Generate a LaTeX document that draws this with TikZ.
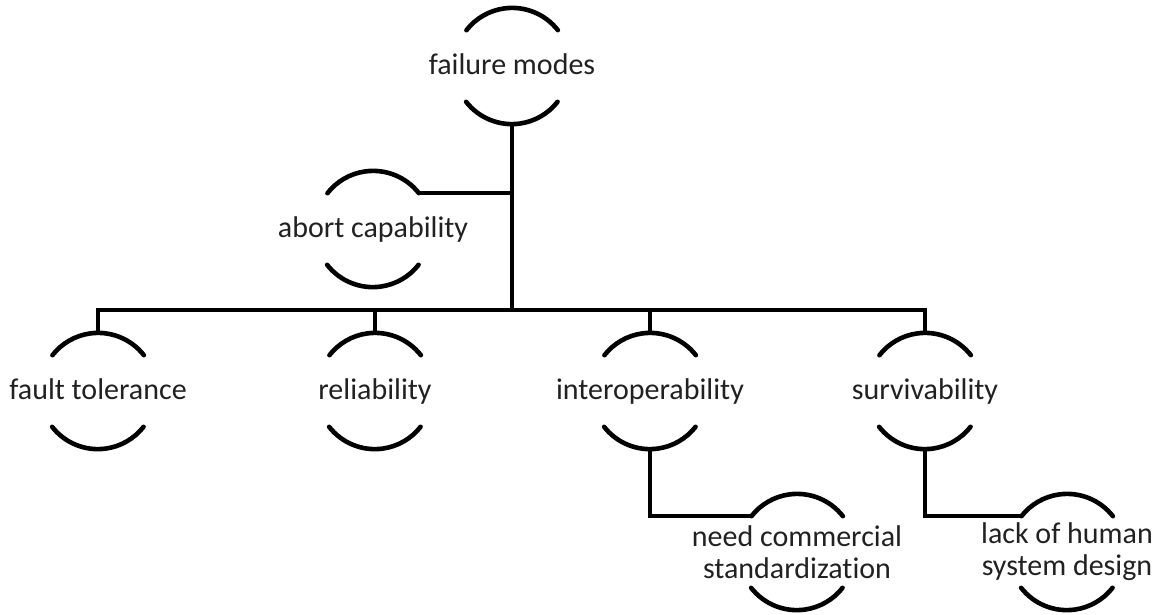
\documentclass[tikz,border=0pt]{standalone}
\usepackage{fontspec}
\setmainfont{Carlito}[Ligatures=NoCommon]
\definecolor{txt}{gray}{0.13}
\begin{document}
\begin{tikzpicture}[x=1pt,y=1pt,
  ring/.style={circle,minimum size=116pt,inner sep=0pt,draw=none},
  lbl/.style={font=\fontsize{30}{32}\selectfont,text=txt,align=center,inner sep=0pt},
  line1/.style={lbl,anchor=base,yshift=-8pt},
  wire/.style={line width=4.6pt,black},
  rim/.style={line width=4.6pt,black,line cap=round}]
\useasboundingbox (0,0) rectangle (1171,-614);

% upper and lower arcs of a ring node
\newcommand\rims[1]{%
  \draw[rim] (#1.38) arc[start angle=38,end angle=142,radius=58];
  \draw[rim] (#1.218) arc[start angle=218,end angle=322,radius=58];}

% rings
\node[ring] (fm) at (512,-66) {};
\node[ring] (ab) at (373,-229) {};
\node[ring] (ft) at (98,-391) {};
\node[ring] (rl) at (375,-391) {};
\node[ring] (io) at (650,-391) {};
\node[ring] (sv) at (925,-391) {};
\node[ring] (nc) at (797,-552) {};
\node[ring] (lh) at (1067,-552) {};
\coordinate (bus) at (512,-310);

% labels
\node[line1] (fmt) at (fm) {failure modes};
\node[line1] (abt) at (ab) {abort capability};
\node[line1] (ftt) at (ft) {fault tolerance};
\node[line1] (rlt) at (rl) {reliability};
\node[line1] (iot) at (io) {interoperability};
\node[line1] (svt) at (sv) {survivability};
\node[lbl] (nct) at (nc) {need commercial\\standardization};
\node[lbl] (lht) at (lh) {lack of human\\system design};

\foreach \n in {fm,ab,ft,rl,io,sv,nc,lh}{\rims{\n}}

% connectors
\draw[wire] (fm.south) -- (bus);
\draw[wire] (ab.38) -- (ab.38 -| fm.south);
\draw[wire] (ft.north) |- (bus);
\draw[wire] (sv.north) |- (bus);
\draw[wire] (rl.north) -- (rl.north |- bus);
\draw[wire] (io.north) -- (io.north |- bus);
\draw[wire] (io.south) |- (nc.142);
\draw[wire] (sv.south) |- (lh.142);
\end{tikzpicture}
\end{document}
